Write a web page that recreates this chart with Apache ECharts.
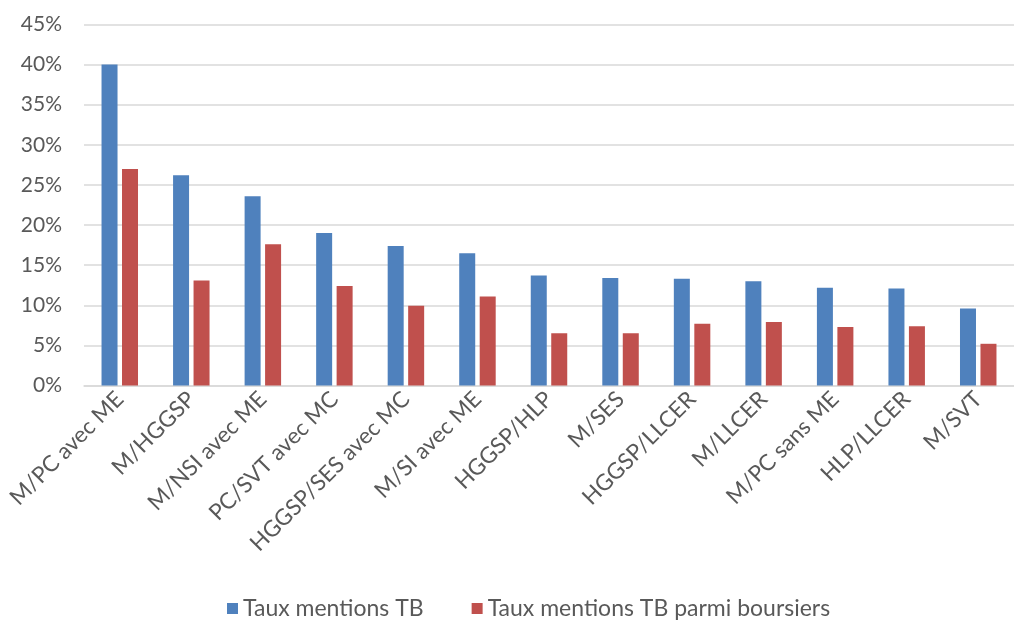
<!DOCTYPE html>
<html><head><meta charset="utf-8">
<script src="https://cdn.jsdelivr.net/npm/echarts@6/dist/echarts.min.js"></script>
<style>html,body{margin:0;padding:0;background:#fff;}#c{width:1014px;height:621px;}</style>
</head><body><div id="c"></div>
<script>
const categories = ["M/PC avec ME","M/HGGSP","M/NSI avec ME","PC/SVT avec MC","HGGSP/SES avec MC","M/SI avec ME","HGGSP/HLP","M/SES","HGGSP/LLCER","M/LLCER","M/PC sans ME","HLP/LLCER","M/SVT"];
const tauxTB = [40.0,26.2,23.6,19.0,17.4,16.5,13.7,13.4,13.3,13.0,12.2,12.1,9.6];
const tauxTBBoursiers = [27.0,13.1,17.6,12.4,9.95,11.1,6.5,6.5,7.7,7.9,7.3,7.4,5.2];
const seriesNames = ["Taux mentions TB","Taux mentions TB parmi boursiers"];
const FONT = "Lato, 'Open Sans', sans-serif";
const chart = echarts.init(document.getElementById('c'));
chart.setOption({
  animation:false,
  textStyle:{fontFamily:FONT},
  grid:{left:84,right:-13,top:24.5,bottom:235.5},
  legend:{bottom:-4,left:222,itemWidth:11,itemHeight:11,itemGap:48,icon:'rect',
    textStyle:{fontSize:23,color:'#595959',fontFamily:FONT},data:seriesNames},
  xAxis:{type:'category',data:categories,
    axisLine:{lineStyle:{color:'#d9d9d9',width:1.5}},axisTick:{show:false},
    axisLabel:{rotate:45,interval:0,fontSize:22.5,color:'#595959',margin:10,fontFamily:FONT}},
  yAxis:{type:'value',min:0,max:45,interval:5,
    axisLine:{show:false},axisTick:{show:false},
    splitLine:{lineStyle:{color:'#d9d9d9',width:1.5}},
    axisLabel:{formatter:'{value}%',fontSize:21,color:'#595959',margin:22,fontFamily:FONT}},
  series:[
    {name:seriesNames[0],type:'bar',data:tauxTB,barWidth:16,barGap:'28%',itemStyle:{color:'#4f81bd'}},
    {name:seriesNames[1],type:'bar',data:tauxTBBoursiers,barWidth:16,itemStyle:{color:'#c0504d'}}
  ]
});
</script></body></html>
